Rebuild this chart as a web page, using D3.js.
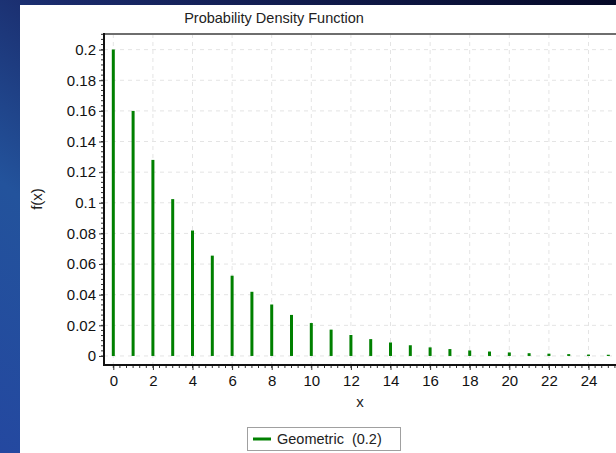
<!DOCTYPE html>
<html>
<head>
<meta charset="utf-8">
<script src="https://cdn.jsdelivr.net/npm/d3@7"></script>
<style>
  body { margin: 0; overflow: hidden; }
  svg { display: block; font-family: "Liberation Sans", Arial, sans-serif; }
</style>
</head>
<body>
<svg id="chart"></svg>
<script>
// geometric (p = 0.2) probabilities
const xs = [0, 1, 2, 3, 4, 5, 6, 7, 8, 9, 10, 11, 12, 13, 14, 15, 16, 17, 18, 19, 20, 21, 22, 23, 24, 25];
const fx = [0.2, 0.16, 0.128, 0.1024, 0.0819, 0.0655, 0.0524, 0.0419, 0.0336, 0.0268,
            0.0215, 0.0172, 0.0137, 0.011, 0.0088, 0.007, 0.0056, 0.0045, 0.0036, 0.0029,
            0.0023, 0.0018, 0.0015, 0.0012, 0.0009, 0.0008];
const xTicks = [0, 2, 4, 6, 8, 10, 12, 14, 16, 18, 20, 22, 24];
const yTicks = [0, 0.02, 0.04, 0.06, 0.08, 0.1, 0.12, 0.14, 0.16, 0.18, 0.2];
const seriesName = "Geometric  (0.2)";

const width = 616, height = 453;
const plot = {left: 104, top: 34, right: 640, bottom: 365};

const svg = d3.select("#chart")
    .attr("width", width)
    .attr("height", height);

const defs = svg.append("defs");
const grad = defs.append("linearGradient")
    .attr("id", "bg")
    .attr("x1", "0").attr("y1", "1").attr("x2", "1").attr("y2", "0");
grad.append("stop").attr("offset", "0").attr("stop-color", "#2448a0");
grad.append("stop").attr("offset", "0.3").attr("stop-color", "#23539c");
grad.append("stop").attr("offset", "0.55").attr("stop-color", "#1a2a6a");
grad.append("stop").attr("offset", "1").attr("stop-color", "#050826");

svg.append("rect")
    .attr("width", width)
    .attr("height", height)
    .attr("fill", "url(#bg)");

// white chart panel
svg.append("rect")
    .attr("x", 20).attr("y", 5)
    .attr("width", width).attr("height", height)
    .attr("fill", "#fff");

const x = d3.scaleLinear()
    .domain([-0.47, 26.6])
    .range([plot.left, plot.right]);

const y = d3.scaleLinear()
    .domain([-0.0059, 0.2102])
    .range([plot.bottom, plot.top]);

const g = svg.append("g");

// grid
g.selectAll(".vgrid")
    .data(xTicks)
    .enter()
    .append("line")
    .attr("x1", d => x(d)).attr("x2", d => x(d))
    .attr("y1", plot.top).attr("y2", plot.bottom)
    .attr("stroke", "#e4e4e4")
    .attr("stroke-dasharray", "4,4");

g.selectAll(".hgrid")
    .data(yTicks)
    .enter()
    .append("line")
    .attr("x1", plot.left).attr("x2", plot.right)
    .attr("y1", d => y(d)).attr("y2", d => y(d))
    .attr("stroke", "#e4e4e4")
    .attr("stroke-dasharray", "4,4");

// top frame line
g.append("line")
    .attr("x1", plot.left).attr("x2", plot.right)
    .attr("y1", plot.top).attr("y2", plot.top)
    .attr("stroke", "#6e6e6e")
    .attr("stroke-width", 2);

// bars
g.selectAll(".bar")
    .data(xs)
    .enter()
    .append("line")
    .attr("x1", d => x(d)).attr("x2", d => x(d))
    .attr("y1", y(0))
    .attr("y2", (d, i) => y(fx[i]))
    .attr("stroke", "#008000")
    .attr("stroke-width", 3);

// minor ticks
const xMinor = d3.range(0, 26.01, 1 / 3);
const yMinor = d3.range(0, 0.2101, 0.02 / 6);

const xAxis = d3.axisBottom(x)
    .tickValues(xTicks)
    .tickFormat(d3.format("d"))
    .tickSize(5)
    .tickPadding(5);

const yAxis = d3.axisLeft(y)
    .tickValues(yTicks)
    .tickFormat(d => d === 0 ? "0" : d3.format("")(+d.toFixed(2)))
    .tickSize(5)
    .tickPadding(3);

const xg = svg.append("g")
    .attr("transform", `translate(0,${plot.bottom})`)
    .call(xAxis);
xg.select(".domain").remove();
xg.selectAll("line").attr("stroke", "#333");
xg.selectAll("text").attr("font-size", 15).attr("fill", "#111");
xg.selectAll(".minor")
    .data(xMinor)
    .enter()
    .append("line")
    .attr("x1", d => x(d)).attr("x2", d => x(d))
    .attr("y1", 0).attr("y2", 3)
    .attr("stroke", "#333");
xg.append("line")
    .attr("x1", plot.left).attr("x2", plot.right)
    .attr("stroke", "#111")
    .attr("stroke-width", 2);

const yg = svg.append("g")
    .attr("transform", `translate(${plot.left},0)`)
    .call(yAxis);
yg.select(".domain").remove();
yg.selectAll("line").attr("stroke", "#333");
yg.selectAll("text").attr("font-size", 15).attr("fill", "#111");
yg.selectAll(".minor")
    .data(yMinor)
    .enter()
    .append("line")
    .attr("x1", 0).attr("x2", -3)
    .attr("y1", d => y(d)).attr("y2", d => y(d))
    .attr("stroke", "#333");
yg.append("line")
    .attr("y1", plot.top - 1).attr("y2", plot.bottom + 1)
    .attr("stroke", "#111")
    .attr("stroke-width", 2);

// title and axis labels
svg.append("text")
    .attr("x", 274).attr("y", 23)
    .attr("text-anchor", "middle")
    .attr("font-size", 14.5)
    .attr("fill", "#222")
    .text("Probability Density Function");

svg.append("text")
    .attr("transform", "translate(42,199) rotate(-90)")
    .attr("text-anchor", "middle")
    .attr("font-size", 15)
    .attr("fill", "#222")
    .text("f(x)");

svg.append("text")
    .attr("x", 360).attr("y", 407)
    .attr("text-anchor", "middle")
    .attr("font-size", 15)
    .attr("fill", "#222")
    .text("x");

// legend
const lg = svg.append("g").attr("transform", "translate(247,427)");
lg.append("rect")
    .attr("x", 0.5).attr("y", 0.5)
    .attr("width", 153).attr("height", 23)
    .attr("fill", "#fff")
    .attr("stroke", "#a0a0a0");
lg.append("line")
    .attr("x1", 6).attr("x2", 24)
    .attr("y1", 12).attr("y2", 12)
    .attr("stroke", "#008000")
    .attr("stroke-width", 3);
lg.append("text")
    .attr("x", 30).attr("y", 17)
    .attr("font-size", 14.5)
    .attr("fill", "#222")
    .attr("xml:space", "preserve")
    .text(seriesName);
</script>
</body>
</html>
